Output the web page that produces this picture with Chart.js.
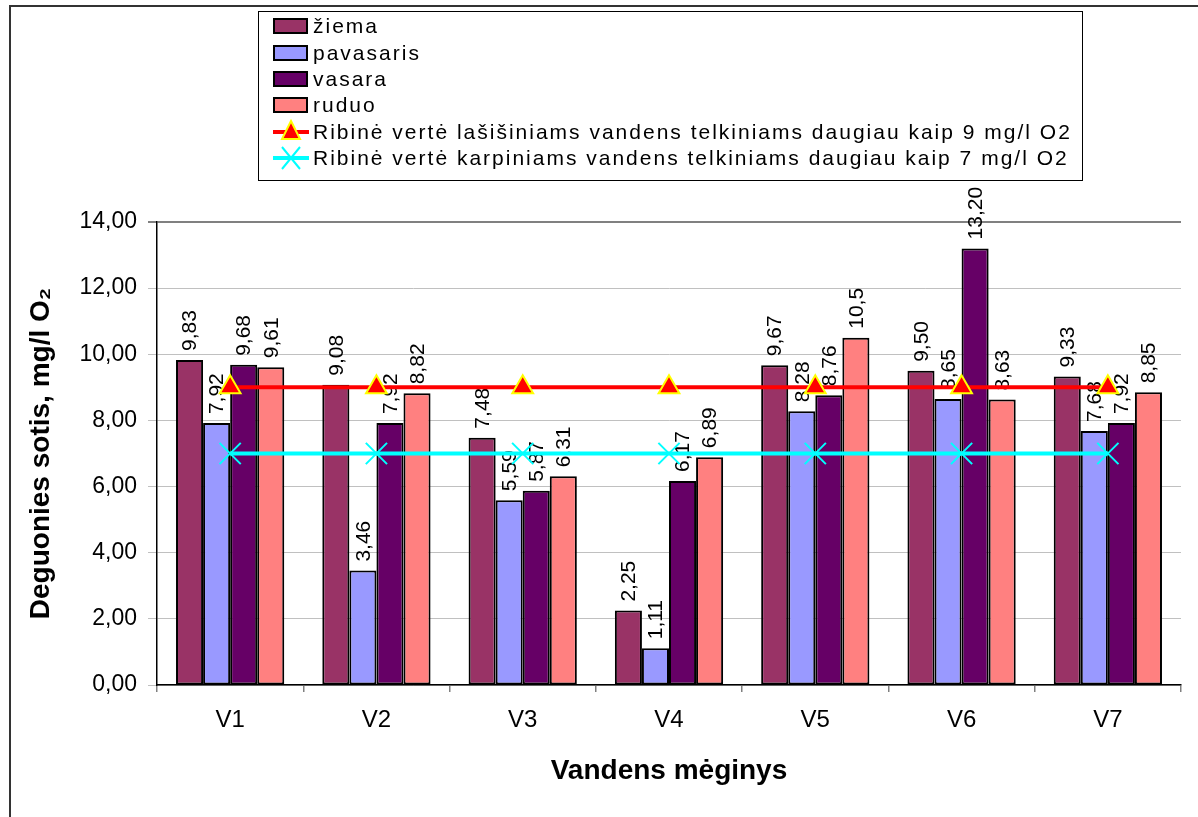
<!DOCTYPE html>
<html>
<head>
<meta charset="utf-8">
<title>Deguonies sotis</title>
<script src="https://cdn.jsdelivr.net/npm/chart.js@4/dist/chart.umd.min.js"></script>
<style>
  html, body { margin: 0; padding: 0; background: #fff; }
  #wrap { width: 1198px; height: 817px; position: relative; }
</style>
</head>
<body>
<div id="wrap"><canvas id="chart"></canvas></div>
<script>
// Data (values as written on the chart)
const samples = ['V1', 'V2', 'V3', 'V4', 'V5', 'V6', 'V7'];
const ziema = ['9.83', '9.08', '7.48', '2.25', '9.67', '9.50', '9.33'];
const pavasaris = ['7.92', '3.46', '5.59', '1.11', '8.28', '8.65', '7.68'];
const vasara = ['9.68', '7.92', '5.87', '6.17', '8.76', '13.20', '7.92'];
const ruduo = ['9.61', '8.82', '6.31', '6.89', '10.5', '8.63', '8.85'];
const limitLasisiniai = [9, 9, 9, 9, 9, 9, 9];
const limitKarpiniai = [7, 7, 7, 7, 7, 7, 7];
const yTicks = [0, 2, 4, 6, 8, 10, 12, 14];

const FONT = '"Liberation Sans", Arial, Helvetica, sans-serif';

function barSet(label, data, color) {
    return {
        type: 'bar', label: label, data: data, order: 1,
        backgroundColor: color, borderColor: '#000', borderWidth: 2,
        borderSkipped: false
    };
}

// rotated value labels above bars (drawn before the lines so lines sit on top)
const valueLabels = {
    id: 'valueLabels',
    afterDatasetDraw(chart, args) {
        const ds = chart.data.datasets[args.index];
        if (ds.type !== 'bar') return;
        const ctx = chart.ctx;
        ctx.save();
        ctx.fillStyle = '#000';
        ctx.font = '21px ' + FONT;
        ctx.textAlign = 'left';
        ctx.textBaseline = 'middle';
        args.meta.data.forEach(function(el, i) {
            ctx.save();
            ctx.translate(el.x, el.y - 9);
            ctx.rotate(-Math.PI / 2);
            ctx.fillText(String(ds.data[i]).replace('.', ','), 0, 1);
            ctx.restore();
        });
        ctx.restore();
    }
};

// frame + boxed legend like the spreadsheet original
const frameLegend = {
    id: 'frameLegend',
    afterDraw(chart) {
        const ctx = chart.ctx;
        ctx.save();
        ctx.strokeStyle = '#333';
        ctx.lineWidth = 2;
        ctx.beginPath();
        ctx.moveTo(10, 817); ctx.lineTo(10, 6); ctx.lineTo(1198, 6);
        ctx.stroke();

        ctx.lineWidth = 1;
        ctx.strokeStyle = '#000';
        ctx.strokeRect(258.5, 11.5, 824, 169);

        const rowY = [26, 53, 79, 105, 132, 158];
        ctx.font = '21px ' + FONT;
        ctx.letterSpacing = '2px';
        ctx.textBaseline = 'middle';
        ctx.textAlign = 'left';
        chart.data.datasets.forEach(function(ds, i) {
            const y = rowY[i];
            if (ds.type === 'bar') {
                ctx.fillStyle = ds.backgroundColor;
                ctx.fillRect(274, y - 7, 33, 14);
                ctx.lineWidth = 2;
                ctx.strokeStyle = '#000';
                ctx.strokeRect(274, y - 7, 33, 14);
            } else {
                ctx.strokeStyle = ds.borderColor;
                ctx.lineWidth = 4;
                ctx.beginPath();
                ctx.moveTo(273, y); ctx.lineTo(309, y);
                ctx.stroke();
                const cx = 291;
                if (ds.pointStyle === 'triangle') {
                    ctx.beginPath();
                    ctx.moveTo(cx, y - 11);
                    ctx.lineTo(cx + 9, y + 7);
                    ctx.lineTo(cx - 9, y + 7);
                    ctx.closePath();
                    ctx.fillStyle = ds.pointBackgroundColor;
                    ctx.fill();
                    ctx.strokeStyle = ds.pointBorderColor;
                    ctx.lineWidth = 2;
                    ctx.stroke();
                } else {
                    ctx.strokeStyle = ds.pointBorderColor;
                    ctx.lineWidth = 2;
                    ctx.beginPath();
                    ctx.moveTo(cx - 9, y - 11); ctx.lineTo(cx + 9, y + 11);
                    ctx.moveTo(cx + 9, y - 11); ctx.lineTo(cx - 9, y + 11);
                    ctx.stroke();
                }
            }
            ctx.fillStyle = '#000';
            ctx.fillText(ds.label, 313, y + 1);
        });
        ctx.restore();
    }
};

const chart = new Chart(document.getElementById('chart'), {
    data: {
        labels: samples,
        datasets: [
            barSet('žiema', ziema, '#993366'),
            barSet('pavasaris', pavasaris, '#9999FF'),
            barSet('vasara', vasara, '#660066'),
            barSet('ruduo', ruduo, '#FF8080'),
            {
                type: 'line', order: 0,
                label: 'Ribinė vertė lašišiniams vandens telkiniams daugiau kaip 9 mg/l O2',
                data: limitLasisiniai,
                borderColor: '#FF0000', borderWidth: 4,
                pointStyle: 'triangle', pointRadius: 12,
                pointBackgroundColor: '#FF0000', pointBorderColor: '#FFFF00', pointBorderWidth: 2
            },
            {
                type: 'line', order: 0,
                label: 'Ribinė vertė karpiniams vandens telkiniams daugiau kaip 7 mg/l O2',
                data: limitKarpiniai,
                borderColor: '#00FFFF', borderWidth: 4,
                pointStyle: 'crossRot', pointRadius: 15,
                pointBackgroundColor: '#00FFFF', pointBorderColor: '#00FFFF', pointBorderWidth: 2
            }
        ]
    },
    options: {
        responsive: true,
        maintainAspectRatio: false,
        animation: false,
        layout: { padding: { left: 24, top: 222, right: 17, bottom: 0 } },
        plugins: {
            legend: { display: false },
            tooltip: { enabled: false }
        },
        datasets: { bar: { categoryPercentage: 0.74, barPercentage: 1.0 } },
        scales: {
            x: {
                offset: true,
                grid: { offset: true, drawOnChartArea: false, tickLength: 7, color: '#808080', lineWidth: 1.5 },
                border: { color: '#000', width: 1.5 },
                ticks: { color: '#000', font: { family: FONT, size: 24 }, padding: 14 },
                title: {
                    display: true, text: 'Vandens mėginys', color: '#000',
                    font: { family: FONT, size: 28, weight: 'bold' },
                    padding: { top: 0, bottom: 29 }
                },
                afterFit(scale) { scale.height = 817 - 685; }
            },
            y: {
                min: 0, max: 14,
                afterBuildTicks(scale) { scale.ticks = yTicks.map(v => ({ value: v })); },
                grid: {
                    color: ctx => (ctx.tick && ctx.tick.value === 14 ? '#808080' : '#c0c0c0'),
                    lineWidth: ctx => (ctx.tick && ctx.tick.value === 14 ? 2 : 1),
                    tickLength: 9
                },
                border: { color: '#000', width: 1.5 },
                ticks: {
                    color: '#000', font: { family: FONT, size: 23 }, padding: 11,
                    callback: v => Number(v).toFixed(2).replace('.', ',')
                },
                title: {
                    display: true, text: 'Deguonies sotis, mg/l O₂', color: '#000',
                    font: { family: FONT, size: 28, weight: 'bold' },
                    padding: { top: 0, bottom: 0 }
                },
                afterFit(scale) { scale.width = 157 - 24; }
            }
        }
    },
    plugins: [valueLabels, frameLegend]
});
</script>
</body>
</html>
